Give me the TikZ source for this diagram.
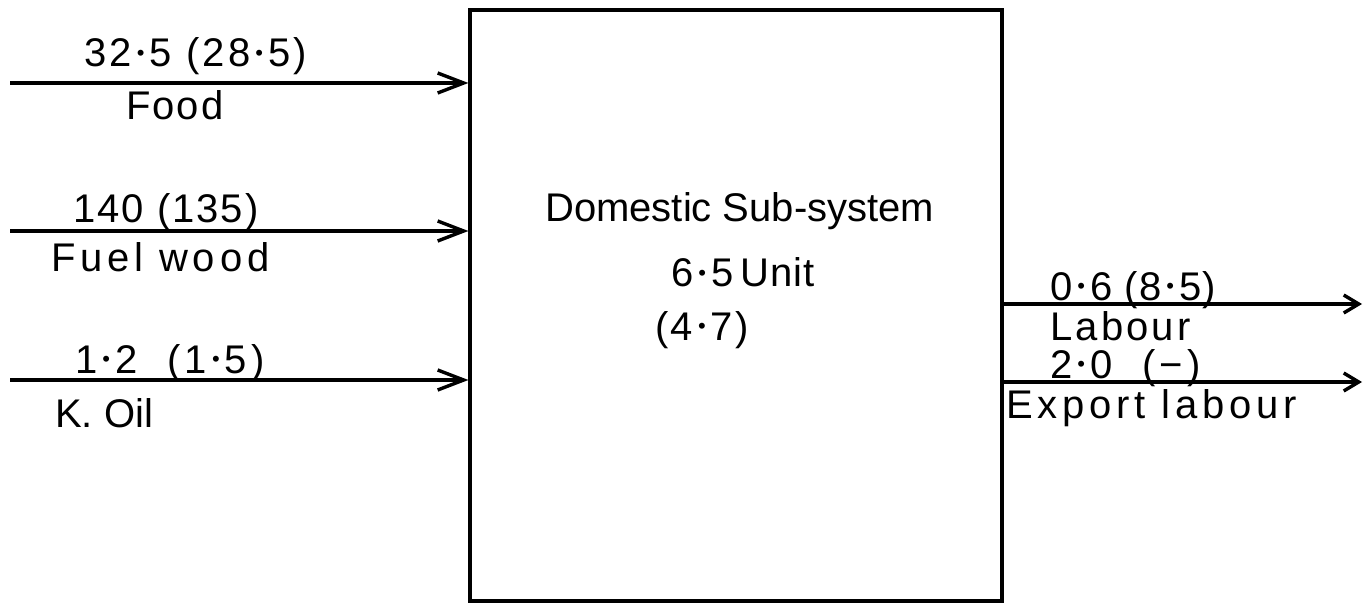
\documentclass[tikz,border=0pt]{standalone}
\usepackage{fontspec}
\setmainfont{Liberation Sans}
\usetikzlibrary{arrows.meta}
\newcommand\dt{\kern5pt\raisebox{6.5pt}{\fontsize{22}{22}\selectfont •}\kern5pt}
\begin{document}
\begin{tikzpicture}[x=1pt,y=-1pt,
  flow/.style={line width=3.4pt,-{Straight Barb[length=26pt,width=20pt,line width=3.4pt]}},
  outflow/.style={line width=3.4pt,-{Straight Barb[length=15pt,width=18pt,line width=3.4pt]}},
  lbl/.style={inner sep=0pt,anchor=base west,font=\fontsize{40}{44}\selectfont\addfontfeatures{LetterSpace=#1}},
  lbl/.default=0,
  sysbox/.style={draw,line width=3.2pt,minimum width=532pt,minimum height=591pt,inner sep=0pt}]
\useasboundingbox (0,0) rectangle (1363,604);
\node[sysbox] (box) at (736,305.5) {};
% inputs
\coordinate (fin) at (10,83);
\coordinate (win) at (10,231);
\coordinate (kin) at (10,380);
\draw[flow] (fin) -- (box.west |- fin);
\draw[flow] (win) -- (box.west |- win);
\draw[flow] (kin) -- (box.west |- kin);
% outputs
\coordinate (lout) at (1362,304);
\coordinate (eout) at (1362,382);
\draw[outflow] (box.east |- lout) -- (lout);
\draw[outflow] (box.east |- eout) -- (eout);
% labels
\node[lbl=8] (t1) at (84,67) {32\dt5 (28\dt5)};
\node[lbl=5] (t2) at (126,120) {Food};
\node[lbl=5] (t3) at (73,223) {140 (135)};
\node[lbl=12] (t4) at (51,272) {Fuel wood};
\node[lbl=10] (t5) at (75,373) {1\dt2 \ (1\dt5)};
\node[lbl=0] (t6) at (55,427) {K. Oil};
\node[lbl=0] (c1) at (545,222) {Domestic Sub-system};
\node[lbl=3] (c2) at (671,287) {6\dt5\,Unit};
\node[lbl=6] (c3) at (655,340) {(4\dt7)};
\node[lbl=3] (r1) at (1050,300) {0\dt6 (8\dt5)};
\node[lbl=8] (r2) at (1050,340) {Labour};
\node[lbl=10] (r3) at (1050,378) {2\dt0 \ (−)};
\node[lbl=12] (r4) at (1006,418) {Export labour};
\end{tikzpicture}
\end{document}
